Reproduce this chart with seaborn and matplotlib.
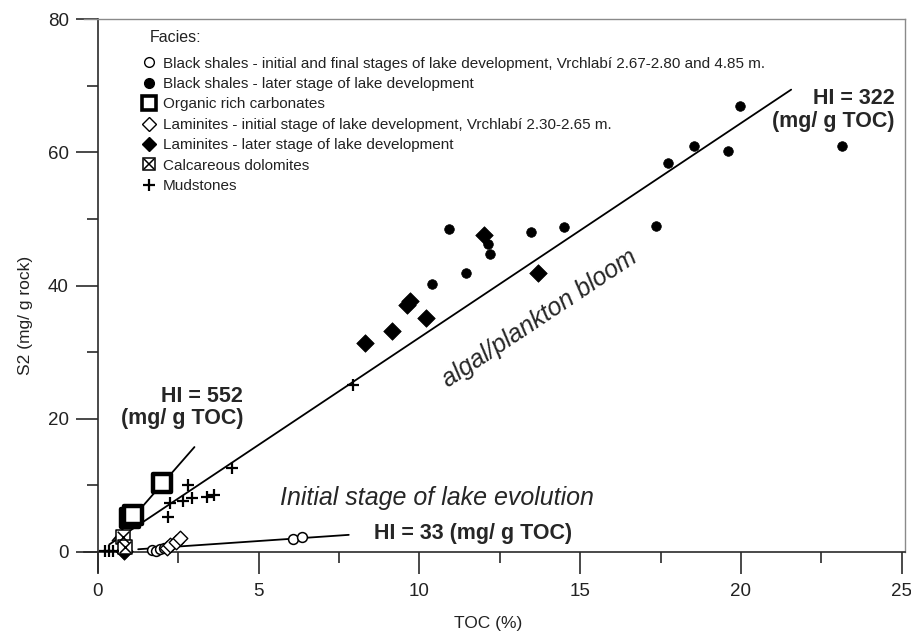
import matplotlib
matplotlib.use("Agg")
import matplotlib.pyplot as plt
import seaborn as sns
import numpy as np
import pandas as pd
from matplotlib.lines import Line2D
from matplotlib.legend_handler import HandlerTuple
from matplotlib.ticker import MultipleLocator

sns.set_theme(style="white")
plt.rcParams['font.family'] = ['Liberation Sans', 'DejaVu Sans']

# ---------------- data (TOC %, S2 mg/g rock) ----------------
bs_init_toc = [1.68, 1.81, 1.93, 2.06, 6.08, 6.35]
bs_init_s2 = [0.3, 0.2, 0.4, 0.6, 1.95, 2.25]
bs_late_toc = [10.93, 12.12, 12.18, 13.46, 11.46, 10.40, 14.49, 17.35, 17.73, 18.54, 19.60, 19.97, 23.15]
bs_late_s2 = [48.5, 46.2, 44.7, 48.0, 41.9, 40.3, 48.8, 48.9, 58.4, 61.0, 60.2, 67.0, 61.0]
carb_toc = [1.0, 1.1, 1.99]
carb_s2 = [5.1, 5.6, 10.3]
lam_init_toc = [2.15, 2.24, 2.43, 2.55]
lam_init_s2 = [0.6, 1.05, 1.5, 2.1]
lam_late_toc = [0.8, 8.32, 9.13, 9.6, 9.7, 10.2, 12.02, 13.7]
lam_late_s2 = [0.1, 31.4, 33.2, 37.1, 37.7, 35.1, 47.6, 41.9]
dol_toc = [0.78, 0.84]
dol_s2 = [2.3, 0.8]
mud_toc = [0.21, 0.34, 0.47, 2.18, 2.24, 2.65, 2.81, 2.93, 3.39, 3.61, 4.17, 7.94]
mud_s2 = [0.1, 0.1, 0.1, 5.3, 7.4, 7.7, 10.1, 8.1, 8.3, 8.5, 12.6, 25.1]

# hydrogen index lines
hi_values = [322, 552, 33]
hi_x_start = [0.35, 0.45, 1.25]
hi_x_end = [21.56, 3.0, 7.8]
hi_offset = [0.0, -0.8, 0.0]

legend_title = "Facies:"
legend_labels = [
    "Black shales - initial and final stages of lake development, Vrchlabí 2.67-2.80 and 4.85 m.",
    "Black shales - later stage of lake development",
    "Organic rich carbonates",
    "Laminites - initial stage of lake development, Vrchlabí 2.30-2.65 m.",
    "Laminites - later stage of lake development",
    "Calcareous dolomites",
    "Mudstones",
]

# ---------------- figure ----------------
W, H = 912, 631
fig = plt.figure(figsize=(W / 100, H / 100), dpi=100)
x0, x1 = -0.45, 25.1
y0, y1 = -3.0, 80.0
px_left, px_right = 98 + x0 * 32.15, 98 + x1 * 32.15
px_bottom, px_top = 552 - y0 * 6.66, 552 - y1 * 6.66
ax = fig.add_axes([px_left / W, 1 - px_bottom / H, (px_right - px_left) / W, (px_bottom - px_top) / H])
ax.set_xlim(x0, x1)
ax.set_ylim(y0, y1)

axis_col = '#2a2a2a'
# HI lines
for hi, xs, xe, off in zip(hi_values, hi_x_start, hi_x_end, hi_offset):
    xx = np.array([xs, xe])
    sns.lineplot(x=xx, y=hi / 100.0 * xx + off, ax=ax, color='black', lw=1.3, zorder=2)

# points
sns.scatterplot(x=bs_init_toc, y=bs_init_s2, ax=ax, marker='o', s=50, facecolor='white',
                edgecolor='black', linewidth=1.1, zorder=4)
sns.scatterplot(x=bs_late_toc, y=bs_late_s2, ax=ax, marker='o', s=48, color='black',
                edgecolor='black', linewidth=0.5, zorder=4)
sns.scatterplot(x=carb_toc, y=carb_s2, ax=ax, marker='s', s=170, facecolor='white',
                edgecolor='black', linewidth=3.2, zorder=3)
sns.scatterplot(x=lam_init_toc, y=lam_init_s2, ax=ax, marker='D', s=55, facecolor='white',
                edgecolor='black', linewidth=1.0, zorder=4)
sns.scatterplot(x=lam_late_toc, y=lam_late_s2, ax=ax, marker='D', s=80, color='black',
                edgecolor='black', linewidth=0.5, zorder=4)
sns.scatterplot(x=dol_toc, y=dol_s2, ax=ax, marker='s', s=110, facecolor='white',
                edgecolor='black', linewidth=1.1, zorder=4)
sns.scatterplot(x=dol_toc, y=dol_s2, ax=ax, marker='x', s=70, color='black',
                linewidth=1.1, zorder=5)
sns.scatterplot(x=mud_toc, y=mud_s2, ax=ax, marker='+', s=80, color='black',
                linewidth=1.6, zorder=4)

# spines
ax.spines['left'].set_position(('data', 0))
ax.spines['bottom'].set_position(('data', 0))
for s in ['left', 'bottom']:
    ax.spines[s].set_color(axis_col)
    ax.spines[s].set_linewidth(1.2)
for s in ['top', 'right']:
    ax.spines[s].set_color('#8a8a8a')
    ax.spines[s].set_linewidth(1.0)
ax.spines['right'].set_bounds(0, y1)

ax.xaxis.set_major_locator(MultipleLocator(5))
ax.xaxis.set_minor_locator(MultipleLocator(2.5))
ax.yaxis.set_major_locator(MultipleLocator(20))
ax.yaxis.set_minor_locator(MultipleLocator(10))
ax.set_xticks(np.arange(0, 26, 5))
ax.set_yticks(np.arange(0, 81, 20))
ax.tick_params(which='major', direction='out', length=16, width=1.2, color=axis_col,
               labelsize=13.5, labelcolor='#222222', pad=5,
               bottom=True, left=True, top=False, right=False)
ax.tick_params(which='minor', direction='out', length=8, width=1.2, color=axis_col,
               bottom=True, left=True, top=False, right=False)
ax.tick_params(axis='x', pad=6)
ax.grid(False)

ax.set_xlabel("TOC (%)", fontsize=12.5, color='#222222')
ax.set_ylabel("S2 (mg/ g rock)", fontsize=12.5, color='#222222')
ax.xaxis.set_label_coords((488 - px_left) / (px_right - px_left), (px_bottom - 616) / (px_bottom - px_top))
ax.yaxis.set_label_coords((33 - px_left) / (px_right - px_left), (px_bottom - 315) / (px_bottom - px_top))

# annotations
ax.text(24.77, 66.4, "HI = 322\n(mg/ g TOC)", ha='right', va='center', multialignment='right',
        fontsize=15.5, fontweight='bold', linespacing=1.1)
ax.text(4.52, 21.7, "HI = 552\n(mg/ g TOC)", ha='right', va='center', multialignment='right',
        fontsize=15.5, fontweight='bold', linespacing=1.1)
ax.text(8.57, 2.85, "HI = 33 (mg/ g TOC)", ha='left', va='center', fontsize=15.5, fontweight='bold')
ax.text(5.67, 8.1, "Initial stage of lake evolution", ha='left', va='center', fontsize=18,
        style='italic')
ax.text(13.75, 35.1, "algal/plankton bloom", ha='center', va='center', fontsize=18,
        style='italic', rotation=33.7, rotation_mode='anchor')

# legend
h_bs_init = Line2D([], [], ls='none', marker='o', ms=7, mfc='white', mec='black', mew=1.0)
h_bs_late = Line2D([], [], ls='none', marker='o', ms=7, mfc='black', mec='black')
h_carb = Line2D([], [], ls='none', marker='s', ms=10, mfc='white', mec='black', mew=2.6)
h_lam_init = Line2D([], [], ls='none', marker='D', ms=7, mfc='white', mec='black', mew=1.0)
h_lam_late = Line2D([], [], ls='none', marker='D', ms=7.5, mfc='black', mec='black')
h_dol_a = Line2D([], [], ls='none', marker='s', ms=9, mfc='white', mec='black', mew=1.1)
h_dol_b = Line2D([], [], ls='none', marker='x', ms=7, mec='black', mew=1.1)
h_mud = Line2D([], [], ls='none', marker='+', ms=8, mec='black', mew=1.6)
handles = [h_bs_init, h_bs_late, h_carb, h_lam_init, h_lam_late, (h_dol_a, h_dol_b), h_mud]
leg = ax.legend(handles, legend_labels, loc='upper left',
                bbox_to_anchor=(134 / W, 1 - 49 / H), bbox_transform=fig.transFigure,
                frameon=False, fontsize=11, borderpad=0,
                handlelength=1.0, handletextpad=0.4, labelspacing=0.42,
                handler_map={tuple: HandlerTuple(ndivide=1)})
for t in leg.get_texts():
    t.set_color('#222222')
fig.text(150 / W, 1 - 38 / H, legend_title, fontsize=11.5, color='#222222', ha='left', va='center')

fig.savefig("out.png", dpi=100)
